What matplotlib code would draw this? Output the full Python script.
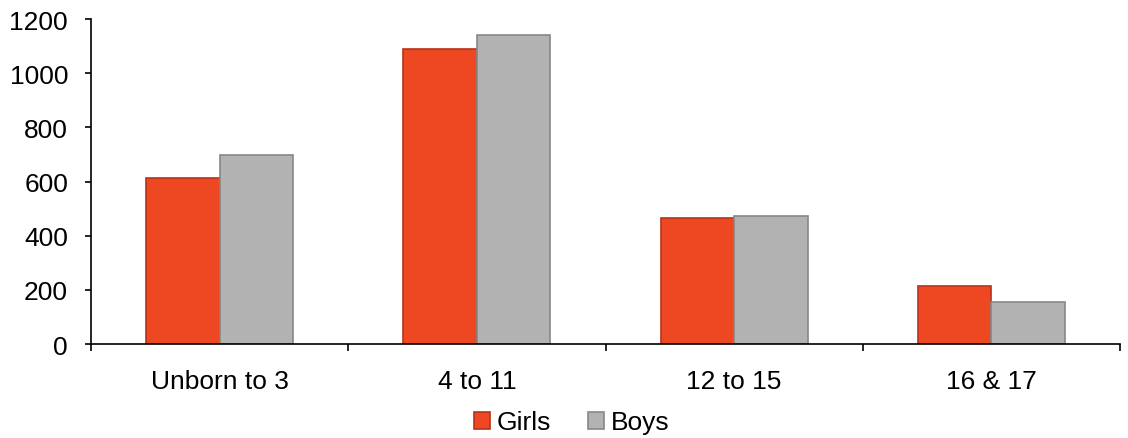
import numpy as np
import matplotlib
matplotlib.use("Agg")
import matplotlib.pyplot as plt

plt.rcParams['font.family'] = ['Liberation Sans', 'DejaVu Sans']

# data
categories = ['Unborn to 3', '4 to 11', '12 to 15', '16 & 17']
girls = [612, 1089, 465, 214]
boys = [699, 1141, 472, 154]

fs = 19

fig = plt.figure(figsize=(11.28, 4.39), dpi=100)
ax = fig.add_axes([0.0807, 0.2141, 0.9122, 0.7403])

x = np.arange(len(categories))
w = 0.286
ax.bar(x - w/2, girls, width=w, color='#EE4823', edgecolor='#B8321C', linewidth=1.2, label='Girls')
ax.bar(x + w/2, boys, width=w, color='#B2B2B2', edgecolor='#878787', linewidth=1.2, label='Boys')

ax.set_xlim(-0.5, len(categories) - 0.5)
ax.set_ylim(0, 1200)
ax.set_yticks(range(0, 1201, 200))
ax.set_xticks(np.arange(-0.5, len(categories), 1.0))
ax.set_xticklabels([])
ax.set_xticks(x, minor=True)
ax.set_xticklabels(categories, minor=True)
ax.tick_params(axis='x', which='minor', length=0, pad=18, labelsize=fs)
ax.tick_params(axis='x', which='major', length=5, width=1.2, direction='out')
ax.tick_params(axis='y', length=4.5, width=1.2, direction='out', labelsize=fs, pad=12)

for s in ['top', 'right']:
    ax.spines[s].set_visible(False)
for s in ['left', 'bottom']:
    ax.spines[s].set_linewidth(1.2)

fig.legend(loc='lower center', bbox_to_anchor=(0.507, -0.046), ncol=2, frameon=False,
           fontsize=fs, handlelength=0.6, handleheight=0.6, handletextpad=0.27,
           columnspacing=1.4)

fig.savefig('out.png', dpi=100)
